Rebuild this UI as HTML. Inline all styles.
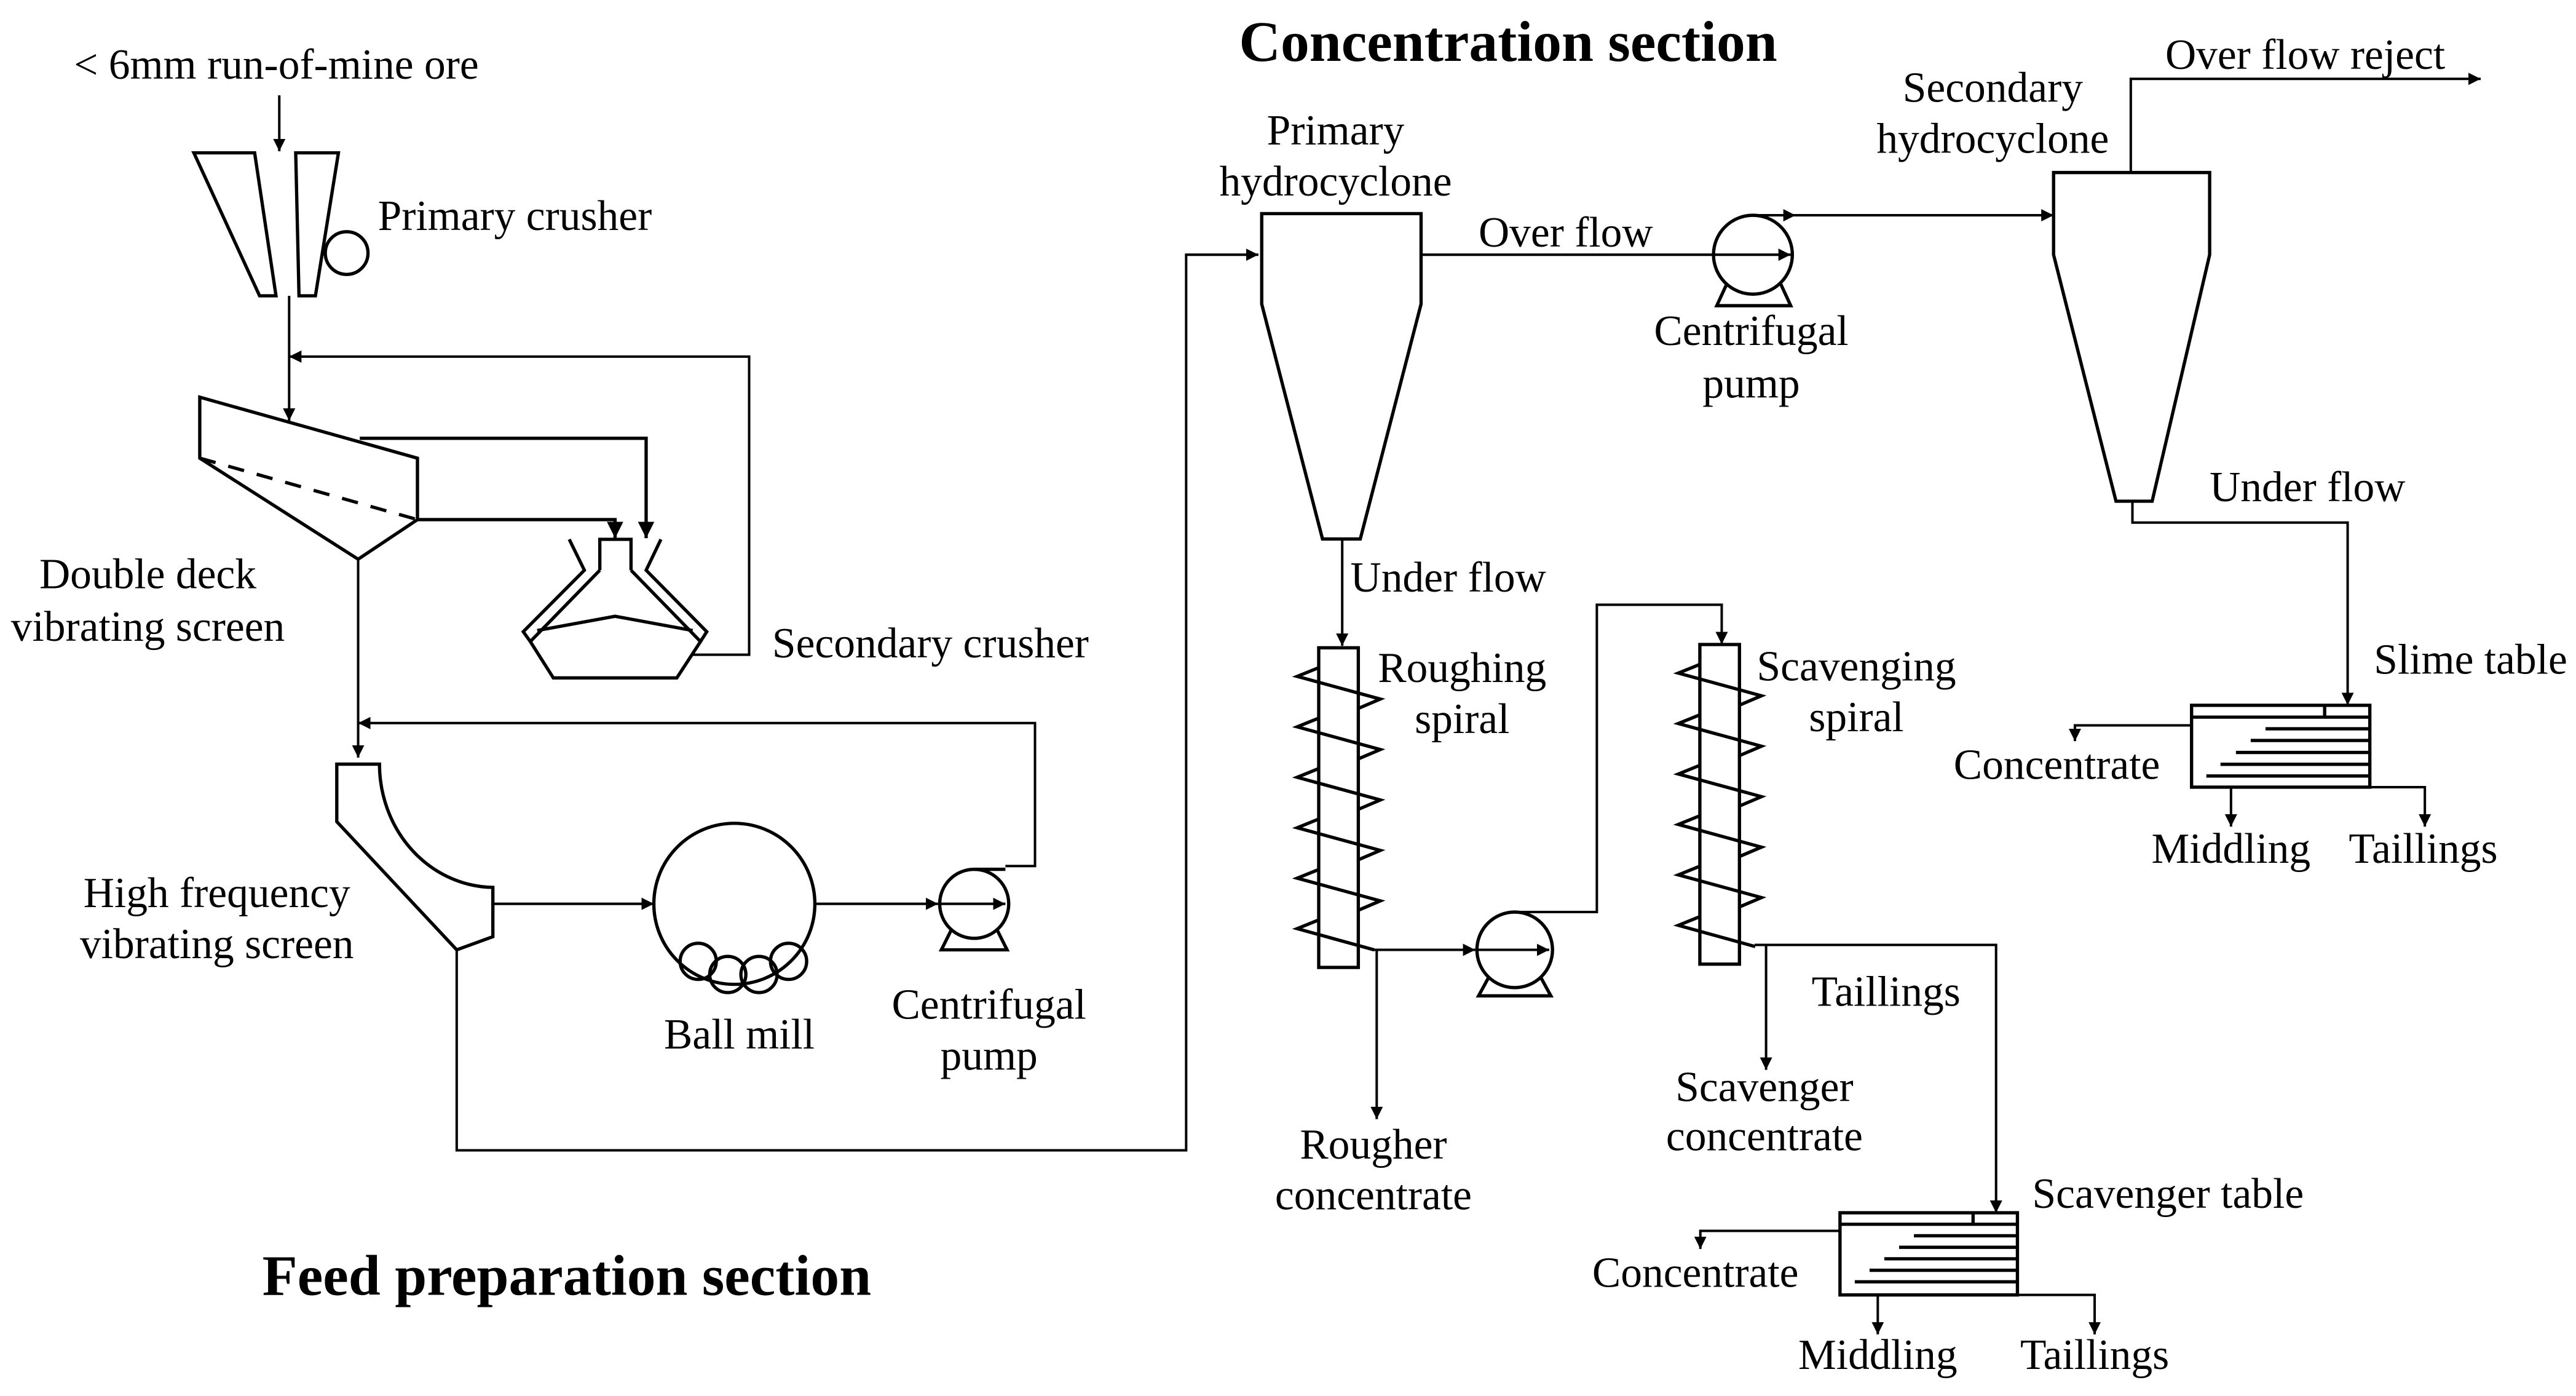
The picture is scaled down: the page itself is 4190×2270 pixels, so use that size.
<!DOCTYPE html>
<html><head><meta charset="utf-8"><style>
html,body{margin:0;padding:0;background:#fff}
svg{display:block}
text{font-family:"Liberation Serif",serif;font-size:26px;fill:#000}
.b{font-weight:bold;font-size:35px}
</style></head><body>
<svg width="4190" height="2270" viewBox="0 0 1568 849.5" preserveAspectRatio="none" xmlns="http://www.w3.org/2000/svg">
<defs>
<marker id="a" viewBox="0 0 10 10" refX="10" refY="5" markerWidth="5" markerHeight="5" orient="auto" markerUnits="strokeWidth"><path d="M0,0L10,5L0,10z" fill="#000"/></marker>
<path id="hx" d="M802.7,406.3 L789.6,411.6 L840.2,425.4 L826.8,431.1 M802.7,437 L789.6,442.3 L840.2,456.1 L826.8,461.8 M802.7,467.7 L789.6,473 L840.2,486.8 L826.8,492.5 M802.7,498.4 L789.6,503.7 L840.2,517.5 L826.8,523.2 M802.7,529.1 L789.6,534.4 L840.2,548.2 L826.8,553.9 M802.7,559.8 L789.6,565.1 L836.4,578"/>
</defs>
<g fill="none" stroke="#000" stroke-width="2">
<line x1="170" y1="58" x2="170" y2="92" stroke-width="1.5" marker-end="url(#a)"/>
<polygon points="118,93 155,93 168,180 158,180"/>
<polygon points="180,93 206,93 192,180 182,180"/>
<circle cx="211" cy="154" r="13"/>
<line x1="176" y1="180" x2="176" y2="256" stroke-width="1.5" marker-end="url(#a)"/>
<polyline points="421.6,398.4 456,398.4 456,217 176,217" marker-end="url(#a)" stroke-width="1.5"/>
<polygon points="121.6,241.7 254.1,278.8 254.1,316.2 218,340.3 121.6,278.8"/>
<line x1="121.6" y1="278.8" x2="254.1" y2="316.2" stroke-dasharray="10,8"/>
<polyline points="219,266.7 393.3,266.7 393.3,327.5" marker-end="url(#a)"/>
<polyline points="254.1,316.2 374.4,316.2 374.4,327.5" marker-end="url(#a)"/>
<polyline points="346.5,328.2 355.7,347 318.5,384.4 322.8,390.4"/>
<polyline points="402.3,328.2 393.3,347 430.2,384.4 426.4,390.4"/>
<polyline points="365.1,347 365.1,328.2 384.1,328.2 384.1,347"/>
<polyline points="365.1,347 322.8,390.4 336.8,412.5 412,412.5 426.4,390.4 384.1,347"/>
<polyline points="327,383.7 374.4,375 421.6,383.7"/>
<line x1="218" y1="340" x2="218" y2="461" stroke-width="1.5" marker-end="url(#a)"/>
<polyline points="612,527 630,527 630,440 218,440" stroke-width="1.5" marker-end="url(#a)"/>
<path d="M205,465 L231,465 A70,75 0 0 0 300,540 L300,570 L278,578 L205,500 Z"/>
<line x1="300" y1="550" x2="398" y2="550" stroke-width="1.5" marker-end="url(#a)"/>
<circle cx="447" cy="550" r="49"/>
<circle cx="425" cy="585" r="11"/><circle cx="443" cy="593" r="11"/><circle cx="462" cy="593" r="11"/><circle cx="480" cy="585" r="11"/>
<line x1="497" y1="550" x2="571" y2="550" stroke-width="1.5" marker-end="url(#a)"/>
<circle cx="593" cy="550" r="21"/>
<line x1="572" y1="550" x2="612" y2="550" stroke-width="1.5" marker-end="url(#a)"/>
<polyline points="579,566 573,578 613,578 607,566"/>
<line x1="593" y1="529" x2="612" y2="529"/>
<polyline points="278,578 278,700 722,700 722,155 766,155" stroke-width="1.5" marker-end="url(#a)"/>
<polygon points="768,130 865,130 865,185 828,328 805,328 768,185"/>
<line x1="865" y1="155" x2="1043" y2="155" stroke-width="1.5"/>
<circle cx="1067" cy="155" r="24"/>
<line x1="1043" y1="155" x2="1090" y2="155" stroke-width="1.5" marker-end="url(#a)"/>
<polyline points="1051,173 1045,186 1090,186 1084,173"/>
<line x1="1067" y1="131" x2="1250" y2="131" stroke-width="1.5" marker-end="url(#a)"/>
<line x1="1067" y1="131" x2="1093" y2="131" stroke-width="1.5" marker-end="url(#a)"/>
<polygon points="1250,105 1345,105 1345,155 1310,305 1288,305 1250,155"/>
<polyline points="1297,105 1297,48 1510,48" stroke-width="1.5" marker-end="url(#a)"/>
<polyline points="1298,305 1298,318 1429,318 1429,429" stroke-width="1.5" marker-end="url(#a)"/>
<rect x="1334" y="429.2" width="108.5" height="49.8"/>
<line x1="1334" y1="436.4" x2="1442.5" y2="436.4"/>
<line x1="1415" y1="429.2" x2="1415" y2="436.4"/>
<line x1="1379" y1="443.5" x2="1442.5" y2="443.5"/><line x1="1370" y1="450.6" x2="1442.5" y2="450.6"/><line x1="1361" y1="457.9" x2="1442.5" y2="457.9"/><line x1="1351.6" y1="465.1" x2="1442.5" y2="465.1"/><line x1="1343" y1="472.2" x2="1442.5" y2="472.2"/>
<polyline points="1334,441.4 1263,441.4 1263,451" stroke-width="1.5" marker-end="url(#a)"/>
<line x1="1358" y1="479" x2="1358" y2="503" stroke-width="1.5" marker-end="url(#a)"/>
<polyline points="1442.5,479 1476,479 1476,503" stroke-width="1.5" marker-end="url(#a)"/>
<line x1="817" y1="328" x2="817" y2="393" stroke-width="1.5" marker-end="url(#a)"/>
<rect x="802.7" y="394.2" width="24.1" height="194.5"/>
<use href="#hx"/>
<line x1="836" y1="578" x2="898" y2="578" stroke-width="1.5" marker-end="url(#a)"/>
<line x1="838" y1="578" x2="838" y2="681" stroke-width="1.5" marker-end="url(#a)"/>
<circle cx="922" cy="578" r="23"/>
<line x1="899" y1="578" x2="943" y2="578" stroke-width="1.5" marker-end="url(#a)"/>
<polyline points="906,595 900,606 944,606 938,595"/>
<polyline points="922,555 972,555 972,368 1048,368 1048,392" stroke-width="1.5" marker-end="url(#a)"/>
<rect x="1034.7" y="392.2" width="24.1" height="194.5"/>
<use href="#hx" transform="translate(232,-2)"/>
<polyline points="1068,575 1215,575 1215,738" stroke-width="1.5" marker-end="url(#a)"/>
<line x1="1075" y1="575" x2="1075" y2="651" stroke-width="1.5" marker-end="url(#a)"/>
<rect x="1120" y="738" width="108" height="50"/>
<line x1="1120" y1="745" x2="1228" y2="745"/>
<line x1="1201" y1="738" x2="1201" y2="745"/>
<line x1="1165" y1="752" x2="1228" y2="752"/><line x1="1156" y1="759" x2="1228" y2="759"/><line x1="1147" y1="766" x2="1228" y2="766"/><line x1="1138" y1="773" x2="1228" y2="773"/><line x1="1129" y1="780" x2="1228" y2="780"/>
<polyline points="1120,749 1035,749 1035,760" stroke-width="1.5" marker-end="url(#a)"/>
<line x1="1143" y1="788" x2="1143" y2="812" stroke-width="1.5" marker-end="url(#a)"/>
<polyline points="1228,788 1275,788 1275,812" stroke-width="1.5" marker-end="url(#a)"/>
</g>
<text x="45" y="48">&lt; 6mm run-of-mine ore</text>
<text x="230" y="140">Primary crusher</text>
<text x="90" y="358" text-anchor="middle">Double deck</text>
<text x="90" y="390" text-anchor="middle">vibrating screen</text>
<text x="470" y="400">Secondary crusher</text>
<text x="132" y="552" text-anchor="middle">High frequency</text>
<text x="132" y="583" text-anchor="middle">vibrating screen</text>
<text x="450" y="638" text-anchor="middle">Ball mill</text>
<text x="602" y="620" text-anchor="middle">Centrifugal</text>
<text x="602" y="651" text-anchor="middle">pump</text>
<text x="345" y="788" text-anchor="middle" class="b">Feed preparation section</text>
<text x="918" y="37" text-anchor="middle" class="b">Concentration section</text>
<text x="813" y="88" text-anchor="middle">Primary</text>
<text x="813" y="119" text-anchor="middle">hydrocyclone</text>
<text x="900" y="150">Over flow</text>
<text x="1066" y="210" text-anchor="middle">Centrifugal</text>
<text x="1066" y="242" text-anchor="middle">pump</text>
<text x="1213" y="62" text-anchor="middle">Secondary</text>
<text x="1213" y="93" text-anchor="middle">hydrocyclone</text>
<text x="1318" y="42">Over flow reject</text>
<text x="1345" y="305">Under flow</text>
<text x="1445" y="410">Slime table</text>
<text x="1252" y="474" text-anchor="middle">Concentrate</text>
<text x="1358" y="525" text-anchor="middle">Middling</text>
<text x="1475" y="525" text-anchor="middle">Taillings</text>
<text x="822" y="360">Under flow</text>
<text x="890" y="415" text-anchor="middle">Roughing</text>
<text x="890" y="446" text-anchor="middle">spiral</text>
<text x="836" y="705" text-anchor="middle">Rougher</text>
<text x="836" y="736" text-anchor="middle">concentrate</text>
<text x="1130" y="414" text-anchor="middle">Scavenging</text>
<text x="1130" y="445" text-anchor="middle">spiral</text>
<text x="1148" y="612" text-anchor="middle">Taillings</text>
<text x="1074" y="670" text-anchor="middle">Scavenger</text>
<text x="1074" y="700" text-anchor="middle">concentrate</text>
<text x="1237" y="735">Scavenger table</text>
<text x="1032" y="783" text-anchor="middle">Concentrate</text>
<text x="1143" y="833" text-anchor="middle">Middling</text>
<text x="1275" y="833" text-anchor="middle">Taillings</text>
</svg>
</body></html>
